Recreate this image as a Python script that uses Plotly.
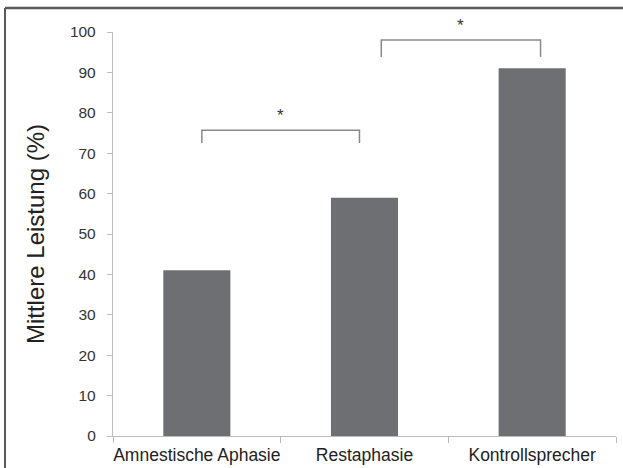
import plotly.graph_objects as go

categories = ["Amnestische Aphasie", "Restaphasie", "Kontrollsprecher"]
values = [41, 59, 91]
y_ticks = [0, 10, 20, 30, 40, 50, 60, 70, 80, 90, 100]

# significance brackets: (x start, x end, bar height, tick bottom, star label)
bracket_x0 = [0.03, 1.10]
bracket_x1 = [0.97, 2.05]
bracket_top = [75.7, 98.0]
bracket_bottom = [72.5, 93.8]
bracket_label = ["*", "*"]

W, H = 623, 468
L, R, T, B = 113, 7, 32, 32
pw, ph = W - L - R, H - T - B

fig = go.Figure()
fig.add_trace(go.Bar(
    x=list(range(len(categories))), y=values, width=0.4,
    marker=dict(color="#6e6f72", line=dict(width=0)),
    hoverinfo="skip",
))

shapes = []
annotations = []
for x0, x1, yt, yb, lab in zip(bracket_x0, bracket_x1, bracket_top, bracket_bottom, bracket_label):
    shapes.append(dict(type="path", xref="x", yref="y",
                       path=f"M {x0},{yb} L {x0},{yt} L {x1},{yt} L {x1},{yb}",
                       line=dict(color="#8a8a8a", width=1.5)))
    annotations.append(dict(x=(x0 + x1) / 2, y=yt, xref="x", yref="y", text=lab,
                            showarrow=False, yanchor="middle", yshift=15,
                            font=dict(family="Liberation Sans, Arial", size=17, color="#333")))

# outer frame (top and left edges visible)
fx0 = (5 - L) / pw
fy1 = (H - B - 8) / ph
shapes.append(dict(type="line", xref="paper", yref="paper", x0=fx0, x1=(W + 5 - L) / pw,
                   y0=fy1, y1=fy1, line=dict(color="#5a5a5a", width=2.5)))
shapes.append(dict(type="line", xref="paper", yref="paper", x0=fx0, x1=fx0,
                   y0=fy1, y1=-(B + 5) / ph, line=dict(color="#5a5a5a", width=2)))

fig.update_layout(
    width=W, height=H,
    margin=dict(l=L, r=R, t=T, b=B),
    paper_bgcolor="white", plot_bgcolor="white",
    showlegend=False,
    shapes=shapes, annotations=annotations,
    font=dict(family="Liberation Sans, Arial", color="#333"),
    xaxis=dict(range=[-0.5, 2.5], tickmode="array", tickvals=[0, 1, 2], ticktext=categories,
               showgrid=False, zeroline=False, showline=True, linecolor="#bcbcbc", linewidth=1.3,
               automargin=False,
               ticks="", ticklabelstandoff=3, tickfont=dict(size=17.5, color="#222"), fixedrange=True),
    yaxis=dict(range=[0, 100], tickvals=y_ticks, showgrid=False, zeroline=False,
               showline=True, linecolor="#bcbcbc", linewidth=1.3, automargin=False,
               ticks="outside", ticklen=5, tickcolor="#bcbcbc", ticklabelstandoff=8,
               tickfont=dict(size=15.5, color="#333"),
               title=dict(text="Mittlere Leistung (%)", font=dict(size=24, color="#222"), standoff=18)),
)

# x-axis category boundary ticks via an overlay axis
fig.update_layout(xaxis2=dict(overlaying="x", range=[-0.5, 2.5], tickvals=[-0.5, 0.5, 1.5, 2.5],
                              ticktext=["", "", "", ""], ticks="outside", ticklen=6, automargin=False,
                              tickcolor="#bcbcbc", showgrid=False, zeroline=False,
                              showline=False, side="bottom", anchor="y"))
fig.add_trace(go.Scatter(x=[None], y=[None], xaxis="x2", showlegend=False, hoverinfo="skip"))

fig.write_html("out.html", config={"displayModeBar": False},
               post_script="document.body.style.margin='0';document.body.style.overflow='hidden';")
